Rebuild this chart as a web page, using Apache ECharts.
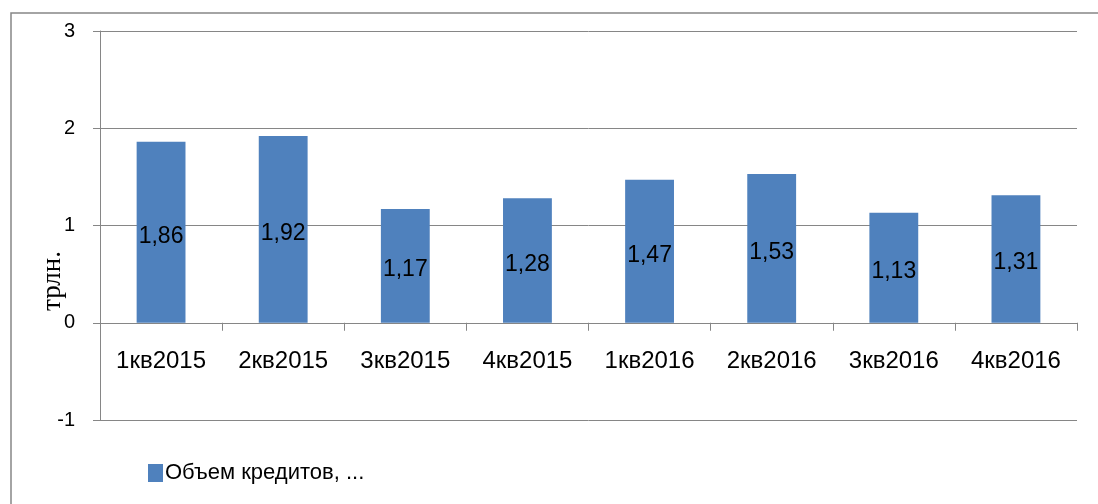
<!DOCTYPE html>
<html>
<head>
<meta charset="utf-8">
<script src="https://cdn.jsdelivr.net/npm/echarts@6/dist/echarts.min.js"></script>
<style>html,body{margin:0;padding:0;background:#fff}#c{width:1098px;height:504px}</style>
</head>
<body>
<div id="c"></div>
<script>
const categories = ['1кв2015','2кв2015','3кв2015','4кв2015','1кв2016','2кв2016','3кв2016','4кв2016'];
const values = [1.86, 1.92, 1.17, 1.28, 1.47, 1.53, 1.13, 1.31];
const seriesName = 'Объем кредитов, ...';
const yTitle = 'трлн.';
const yMin = -1, yMax = 3, yStep = 1;

const font = 'Liberation Sans';
const gridTop = 31, gridBottom = 84, H = 504;
const plotH = H - gridTop - gridBottom;
const zeroOffset = plotH * (0 - yMin) / (yMax - yMin);

const chart = echarts.init(document.getElementById('c'), null, {renderer: 'canvas'});
chart.setOption({
  animation: false,
  backgroundColor: '#fff',
  grid: {left: 100, top: gridTop, right: 21, bottom: gridBottom, containLabel: false},
  legend: {
    left: 143, top: 457, itemWidth: 15, itemHeight: 18, itemGap: 10,
    icon: 'rect',
    textStyle: {fontFamily: font, fontSize: 22, color: '#000', padding: [0,0,0,-3]},
    data: [seriesName]
  },
  xAxis: {
    type: 'category', data: categories, position: 'bottom', offset: -zeroOffset,
    axisLine: {onZero: false, lineStyle: {color: '#868686', width: 1}},
    axisTick: {show: true, length: 8, alignWithLabel: false, lineStyle: {color: '#868686'}},
    axisLabel: {margin: 27, fontFamily: font, fontSize: 24, color: '#000', interval: 0},
    splitLine: {show: false}
  },
  yAxis: {
    type: 'value', min: yMin, max: yMax, interval: yStep,
    axisLine: {show: true, lineStyle: {color: '#868686', width: 1}},
    axisTick: {show: true, length: 7, lineStyle: {color: '#868686'}},
    axisLabel: {margin: 25, fontFamily: font, fontSize: 20, color: '#000'},
    splitLine: {show: true, lineStyle: {color: '#868686', width: 1}}
  },
  series: [{
    type: 'bar', name: seriesName, data: values, barWidth: '40%',
    itemStyle: {color: '#4F81BD'},
    label: {
      show: true, position: 'inside', offset: [0, 4],
      fontFamily: font, fontSize: 23, color: '#000',
      formatter: p => String(p.value).replace('.', ',')
    }
  }],
  graphic: [
    {type: 'rect', shape: {x: 11, y: 13, width: 1200, height: 600}, style: {fill: 'none', stroke: '#868686', lineWidth: 1.5}, z: -1, silent: true},
    {type: 'text', x: 53, y: 281, rotation: Math.PI / 2,
     style: {text: yTitle, font: '27px "Liberation Serif"', fill: '#000', align: 'center', verticalAlign: 'middle'}}
  ]
});
</script>
</body>
</html>
